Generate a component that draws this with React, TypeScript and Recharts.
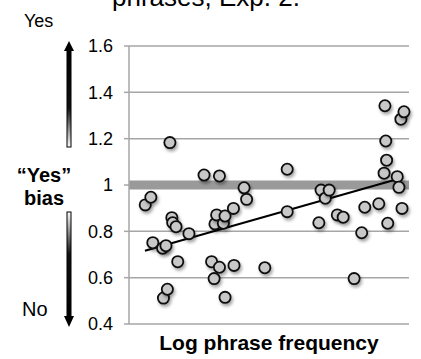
import { CartesianGrid, ReferenceLine, Scatter, ScatterChart, XAxis, YAxis } from 'recharts'

// log phrase frequency (arbitrary units, no ticks shown)
const logFreq = [
  0.58, 0.78, 0.85, 1.2, 1.23, 1.32, 1.37, 1.46, 1.53, 1.56, 1.68, 1.74, 2.14, 2.68, 2.95, 3.04,
  3.07, 3.13, 3.23, 3.23, 3.37, 3.43, 3.43, 3.73, 3.75, 4.11, 4.2, 4.85, 5.65, 5.65, 6.78, 6.86,
  7.01, 7.15, 7.44, 7.65, 8.04, 8.31, 8.42, 8.92, 9.11, 9.14, 9.17, 9.2, 9.24, 9.58, 9.64, 9.71,
  9.75, 9.82,
]
const yesBias = [
  0.914, 0.947, 0.751, 0.727, 0.512, 0.738, 0.55, 1.183, 0.859, 0.837, 0.82, 0.669, 0.79, 1.043,
  0.669, 0.596, 0.832, 0.871, 1.039, 0.645, 0.835, 0.866, 0.515, 0.899, 0.653, 0.988, 0.938, 0.643,
  1.068, 0.885, 0.837, 0.978, 0.943, 0.978, 0.871, 0.861, 0.596, 0.794, 0.904, 0.919, 1.051, 1.342,
  1.19, 1.107, 0.835, 1.036, 0.99, 1.284, 0.899, 1.316,
]
const trendX = [0.57, 9.6]
const trendY = [0.716, 1.026]
const yTicks = [0.4, 0.6, 0.8, 1, 1.2, 1.4, 1.6]

const points = logFreq.map((x, i) => ({ x, y: yesBias[i] }))

const FONT = '"Liberation Sans", Arial, sans-serif'
const GRID = '#a6a6a6'

function Dot(props: any) {
  const { cx, cy } = props
  if (cx == null || cy == null) return null
  return (
    <circle
      cx={cx}
      cy={cy}
      r={5.6}
      fill="#c8c8c8"
      stroke="#111"
      strokeWidth={1.8}
      filter="url(#dotShadow)"
    />
  )
}

export default function App() {
  return (
    <div
      style={{
        position: 'absolute',
        left: 0,
        top: 0,
        width: 421,
        height: 359,
        background: '#fff',
        fontFamily: FONT,
      }}
    >
      <ScatterChart width={421} height={359} margin={{ top: 46, right: 12, left: 80, bottom: 0 }}>
        <CartesianGrid vertical={false} stroke={GRID} strokeWidth={1.5} />
        <XAxis
          type="number"
          dataKey="x"
          domain={[0, 10]}
          tick={false}
          axisLine={false}
          tickLine={false}
          height={35}
          label={{
            value: 'Log phrase frequency',
            position: 'insideBottom',
            offset: 9,
            fill: '#000',
            fontSize: 21,
            fontWeight: 'bold',
            fontFamily: FONT,
          }}
        />
        <YAxis
          type="number"
          dataKey="y"
          domain={[0.4, 1.6]}
          ticks={yTicks}
          width={49}
          tickSize={5}
          tickMargin={11}
          axisLine={{ stroke: GRID, strokeWidth: 1.5 }}
          tickLine={{ stroke: GRID, strokeWidth: 1.5 }}
          tick={{ fill: '#000', fontSize: 18, fontFamily: FONT }}
          tickFormatter={(v: number) => (v === 1 ? '1' : v.toFixed(1))}
        />
        <ReferenceLine y={1} stroke="#9a9a9a" strokeWidth={9} />
        <Scatter data={points} shape={<Dot />} isAnimationActive={false} />
        <ReferenceLine
          segment={[
            { x: trendX[0], y: trendY[0] },
            { x: trendX[1], y: trendY[1] },
          ]}
          stroke="#000"
          strokeWidth={2}
        />
      </ScatterChart>
      <svg
        width={421}
        height={359}
        style={{ position: 'absolute', left: 0, top: 0, pointerEvents: 'none' }}
      >
        <defs>
          <filter id="dotShadow" x="-60%" y="-60%" width="220%" height="220%">
            <feDropShadow dx={1.5} dy={2.5} stdDeviation={1.5} floodColor="#000" floodOpacity={0.35} />
          </filter>
          <linearGradient id="upShaft" x1="0" y1="0" x2="0" y2="1">
            <stop offset="0" stopColor="#000" />
            <stop offset="0.6" stopColor="#111" />
            <stop offset="1" stopColor="#fff" />
          </linearGradient>
          <linearGradient id="downShaft" x1="0" y1="0" x2="0" y2="1">
            <stop offset="0" stopColor="#fff" />
            <stop offset="0.4" stopColor="#111" />
            <stop offset="1" stopColor="#000" />
          </linearGradient>
        </defs>
        <text x={112} y={6} fontSize={26} fontFamily={FONT} fill="#000">
          phrases, Exp. 2.
        </text>
        <text x={24} y={27} fontSize={18} fontFamily={FONT} fill="#000">
          Yes
        </text>
        <text x={22} y={316} fontSize={20} fontFamily={FONT} fill="#000">
          No
        </text>
        <text x={44} y={182} fontSize={20} fontWeight="bold" textAnchor="middle" fontFamily={FONT} fill="#000">
          “Yes”
        </text>
        <text x={44} y={205} fontSize={20} fontWeight="bold" textAnchor="middle" fontFamily={FONT} fill="#000">
          bias
        </text>
        <polygon points="69,41 64,51 74,51" fill="#000" />
        <rect x={67} y={50} width={4} height={97} fill="url(#upShaft)" stroke="#000" strokeWidth={1} />
        <rect x={67} y={212} width={4} height={105} fill="url(#downShaft)" stroke="#000" strokeWidth={1} />
        <polygon points="64,316 74,316 69,327" fill="#000" />
      </svg>
    </div>
  )
}
